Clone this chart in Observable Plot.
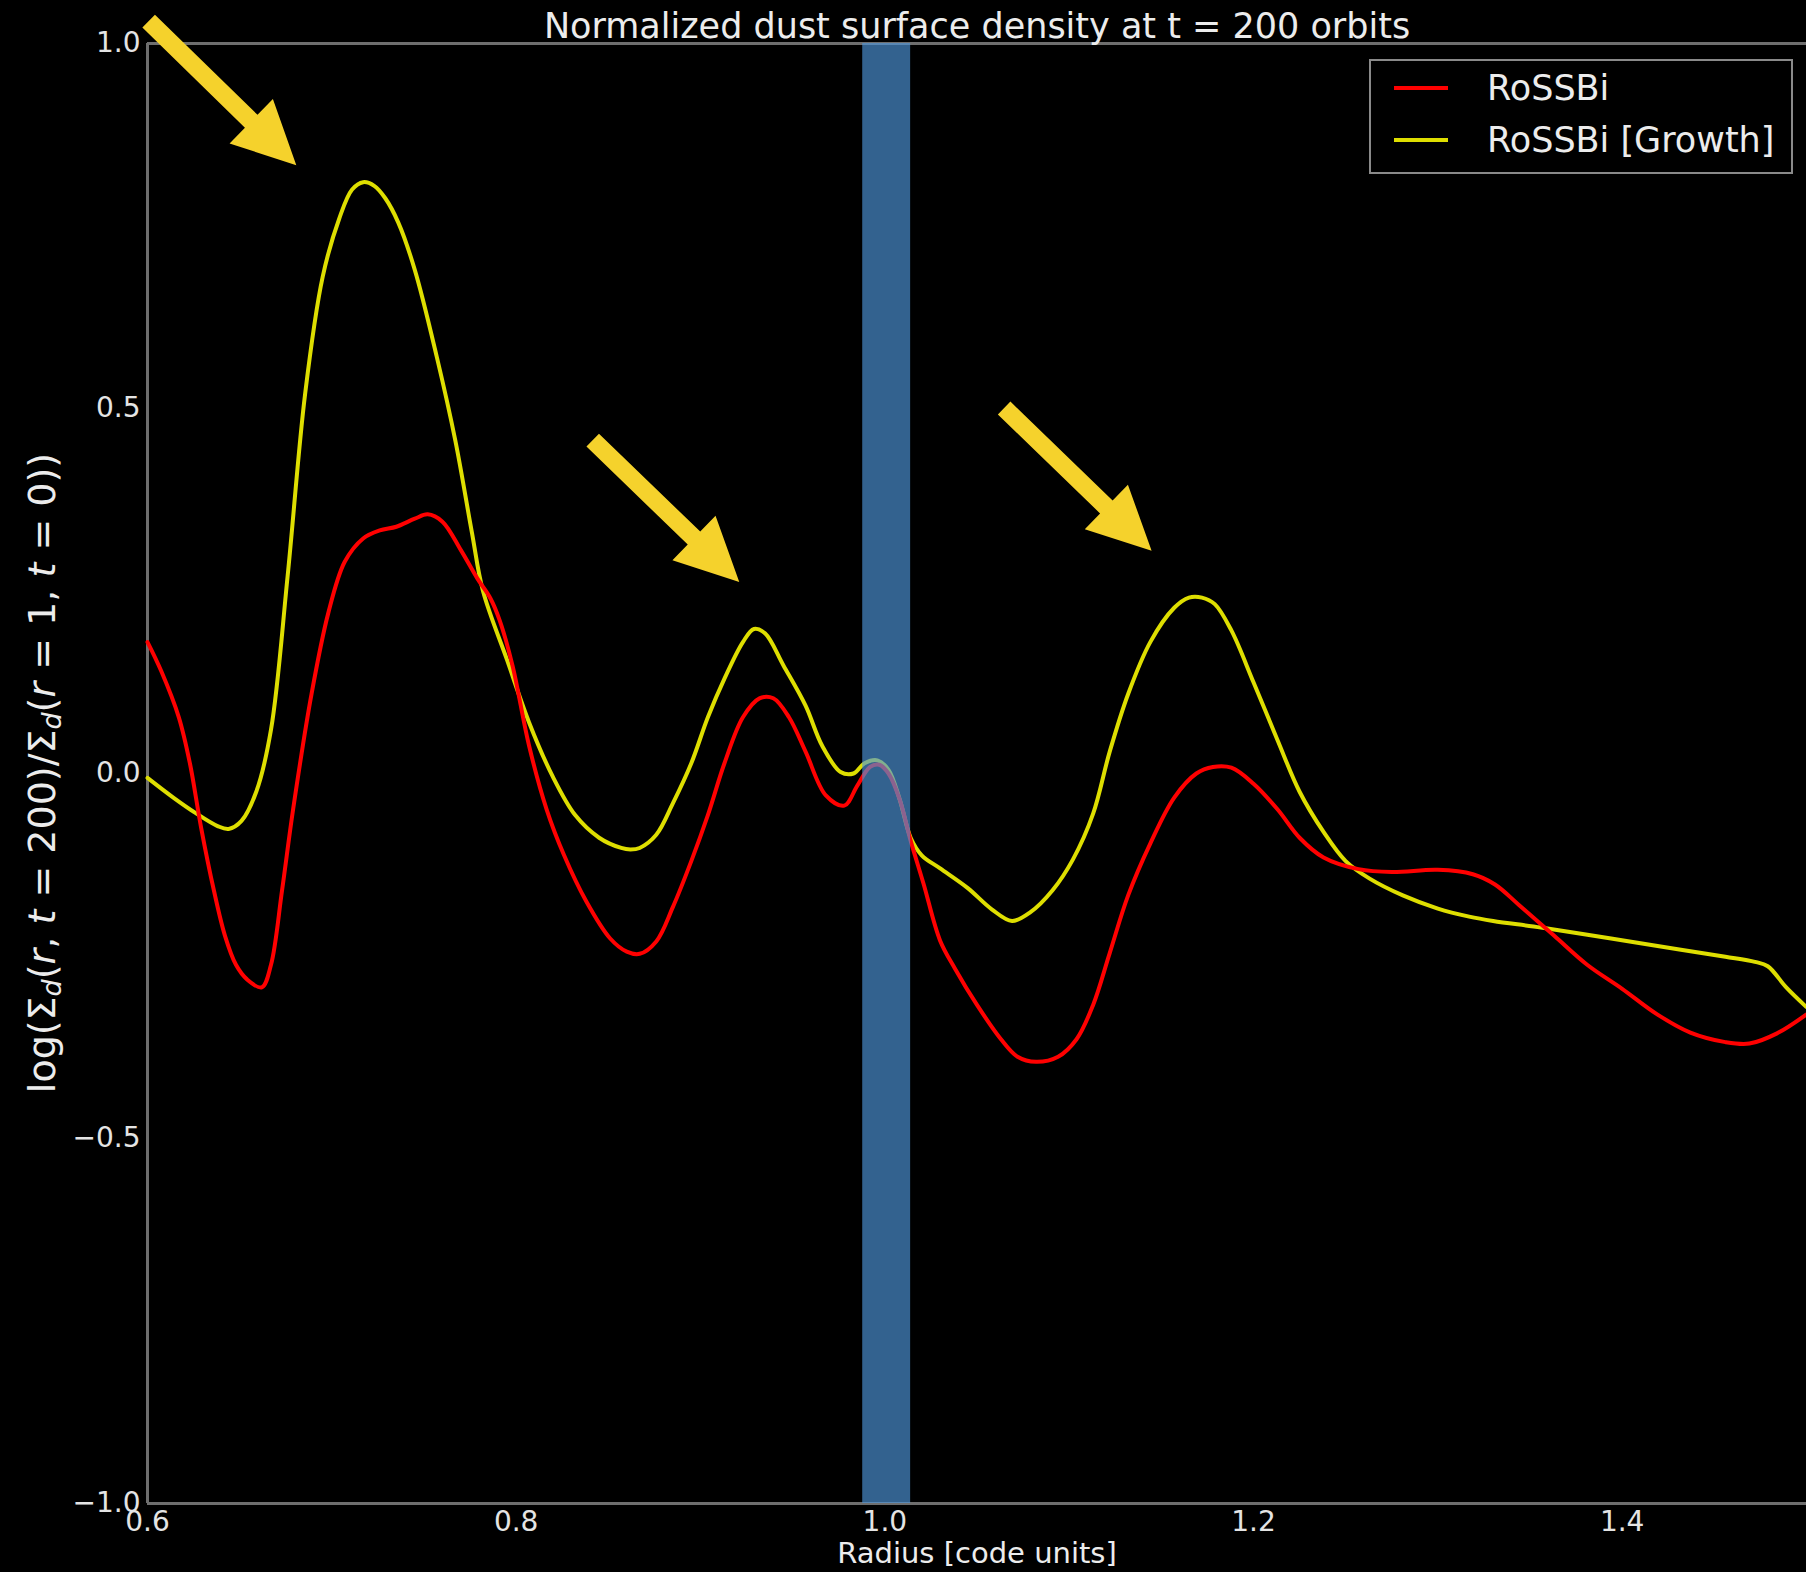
<!DOCTYPE html>
<html>
<head>
<meta charset="utf-8">
<script src="https://cdn.jsdelivr.net/npm/d3@7"></script>
<script src="https://cdn.jsdelivr.net/npm/@observablehq/plot@0.6"></script>
<style>
html, body { margin: 0; padding: 0; background: #000; }
#wrap { position: relative; width: 1806px; height: 1572px; overflow: hidden; background: #000; }
.legend { position: absolute; left: 1369px; top: 59px; width: 420px; height: 111px; border: 2px solid #8a8a8a; background: #000;
  font-family: "DejaVu Sans", sans-serif; font-size: 35px; color: #ececec; }
.legend .sw { position: absolute; left: 23px; width: 54px; height: 4px; }
.legend .lb { position: absolute; left: 116px; height: 40px; line-height: 40px; white-space: nowrap; }
</style>
</head>
<body>
<div id="wrap"></div>
<script>
// ---- Data ----
const titleText = "Normalized dust surface density at t = 200 orbits";
const xLabelText = "Radius [code units]";
const seriesNames = ["RoSSBi", "RoSSBi [Growth]"];
const seriesColors = ["#ff0000", "#dede00"];
const xTicks = [0.6, 0.8, 1.0, 1.2, 1.4];
const yTicks = [-1.0, -0.5, 0.0, 0.5, 1.0];

// RoSSBi (red)
const radiusRed = [0.600,0.6075,0.617,0.623,0.629,0.636,0.642,0.648,0.654,0.662,0.667,0.673,0.679,0.689,0.698,0.707,0.717,0.726,0.735,0.745,0.752,0.760,0.770,0.779,0.786,0.791,0.798,0.807,0.8165,0.826,0.838,0.851,0.860,0.867,0.876,0.885,0.895,0.904,0.913,0.923,0.932,0.9395,0.948,0.957,0.968,0.978,0.985,0.992,0.997,1.002,1.008,1.014,1.021,1.030,1.038,1.050,1.063,1.072,1.082,1.094,1.104,1.113,1.122,1.132,1.144,1.157,1.169,1.178,1.188,1.200,1.213,1.225,1.238,1.257,1.275,1.300,1.319,1.331,1.344,1.363,1.381,1.400,1.419,1.437,1.456,1.469,1.484,1.500];
const valueRed = [0.18,0.14,0.077,0.014,-0.073,-0.16,-0.222,-0.262,-0.282,-0.293,-0.262,-0.16,-0.049,0.109,0.219,0.29,0.322,0.333,0.338,0.349,0.355,0.345,0.306,0.267,0.24,0.21,0.148,0.038,-0.049,-0.112,-0.175,-0.226,-0.244,-0.247,-0.23,-0.183,-0.12,-0.057,0.014,0.077,0.103,0.103,0.077,0.03,-0.03,-0.044,-0.017,0.009,0.012,0.0,-0.035,-0.092,-0.151,-0.229,-0.267,-0.317,-0.364,-0.388,-0.395,-0.388,-0.364,-0.317,-0.246,-0.167,-0.096,-0.033,0.0,0.009,0.008,-0.014,-0.049,-0.088,-0.115,-0.131,-0.135,-0.132,-0.138,-0.152,-0.18,-0.222,-0.262,-0.295,-0.33,-0.355,-0.368,-0.37,-0.356,-0.33];

// RoSSBi [Growth] (yellow)
const radiusYellow = [0.600,0.614,0.626,0.638,0.644,0.651,0.659,0.667,0.676,0.6855,0.695,0.704,0.711,0.717,0.723,0.729,0.736,0.745,0.757,0.767,0.776,0.782,0.795,0.807,0.820,0.832,0.845,0.857,0.862,0.867,0.876,0.885,0.895,0.904,0.913,0.923,0.929,0.935,0.945,0.957,0.966,0.976,0.983,0.989,0.996,1.002,1.008,1.014,1.020,1.030,1.045,1.058,1.069,1.079,1.091,1.102,1.113,1.122,1.132,1.144,1.157,1.165,1.172,1.179,1.188,1.200,1.213,1.225,1.238,1.250,1.263,1.281,1.300,1.317,1.330,1.356,1.394,1.431,1.456,1.472,1.479,1.489,1.500];
const valueYellow = [-0.006,-0.033,-0.054,-0.072,-0.076,-0.065,-0.025,0.06,0.27,0.52,0.68,0.76,0.80,0.81,0.805,0.788,0.755,0.69,0.57,0.456,0.33,0.25,0.156,0.07,-0.005,-0.057,-0.088,-0.102,-0.104,-0.102,-0.084,-0.041,0.014,0.077,0.13,0.18,0.198,0.192,0.148,0.093,0.038,0.002,0.0,0.014,0.018,0.005,-0.035,-0.088,-0.112,-0.13,-0.157,-0.186,-0.202,-0.19,-0.16,-0.118,-0.055,0.03,0.109,0.18,0.227,0.241,0.241,0.232,0.196,0.125,0.046,-0.025,-0.08,-0.12,-0.144,-0.167,-0.185,-0.196,-0.202,-0.211,-0.226,-0.241,-0.251,-0.258,-0.264,-0.293,-0.32];

// Highlighted band (blue)
const bandStart = [0.988];
const bandEnd = [1.014];

// Annotation arrows (tail -> tip), in data units
const arrowX1 = [0.6009, 0.8418, 1.065];
const arrowY1 = [1.030, 0.456, 0.500];
const arrowX2 = [0.681, 0.9213, 1.145];
const arrowY2 = [0.8325, 0.2618, 0.3044];

// ---- Build tables ----
const redData = radiusRed.map((r, i) => ({r, v: valueRed[i]}));
const yellowData = radiusYellow.map((r, i) => ({r, v: valueYellow[i]}));
const bandData = bandStart.map((s, i) => ({s, e: bandEnd[i]}));

const W = 1806, H = 1572, mL = 147, mR = 0, mT = 43, mB = 69;
const xDomain = [0.6, 1.5], yDomain = [-1, 1];

function arrowsMark(index, scales, values, dimensions) {
  let sx = scales && typeof scales.x === "function" ? scales.x : null;
  let sy = scales && typeof scales.y === "function" ? scales.y : null;
  if (!sx) sx = d3.scaleLinear(xDomain, [mL, W - mR]);
  if (!sy) sy = d3.scaleLinear(yDomain, [H - mB, mT]);
  const g = d3.create("svg:g");
  const shaftW = 18, headL = 63, headW = 31;
  for (let i = 0; i < arrowX1.length; i++) {
    const x1 = sx(arrowX1[i]), y1 = sy(arrowY1[i]), x2 = sx(arrowX2[i]), y2 = sy(arrowY2[i]);
    const dx = x2 - x1, dy = y2 - y1, L = Math.hypot(dx, dy);
    const ux = dx / L, uy = dy / L, nx = -uy, ny = ux;
    const bx = x2 - ux * headL, by = y2 - uy * headL;
    const pts = [
      [x1 + nx * shaftW / 2, y1 + ny * shaftW / 2],
      [bx + nx * shaftW / 2, by + ny * shaftW / 2],
      [bx + nx * headW, by + ny * headW],
      [x2, y2],
      [bx - nx * headW, by - ny * headW],
      [bx - nx * shaftW / 2, by - ny * shaftW / 2],
      [x1 - nx * shaftW / 2, y1 - ny * shaftW / 2]
    ];
    g.append("polygon").attr("points", pts.map(p => p.join(",")).join(" ")).attr("fill", "#f5d22c");
  }
  return g.node();
}

const fmt = d => d.toFixed(1).replace("-", "\u2212");

const plot = Plot.plot({
  width: W, height: H,
  marginLeft: mL, marginRight: mR, marginTop: mT, marginBottom: mB,
  x: {domain: xDomain},
  y: {domain: yDomain},
  style: {background: "#000", color: "#e4e4e4", fontFamily: "DejaVu Sans, sans-serif", fontSize: "28px", overflow: "visible"},
  marks: [
    Plot.ruleY([-1, 1], {stroke: "#6e6e6e", strokeWidth: 3}),
    Plot.ruleX([0.6], {stroke: "#6e6e6e", strokeWidth: 3}),
    Plot.line(yellowData, {x: "r", y: "v", stroke: seriesColors[1], strokeWidth: 4, curve: "catmull-rom"}),
    Plot.line(redData, {x: "r", y: "v", stroke: seriesColors[0], strokeWidth: 4, curve: "catmull-rom"}),
    Plot.rect(bandData, {x1: "s", x2: "e", y1: -1, y2: 1, fill: "#4e97dc", fillOpacity: 0.65}),
    arrowsMark,
    Plot.axisX({ticks: xTicks, tickSize: 0, tickPadding: 8, tickFormat: fmt, label: null, fontSize: 28}),
    Plot.axisY({ticks: yTicks, tickSize: 0, tickPadding: 7, tickFormat: fmt, label: null, fontSize: 28}),
    Plot.text([titleText], {text: d => d, frameAnchor: "top", lineAnchor: "bottom", dy: -6, fontSize: 35, fill: "#ececec"}),
    Plot.text([xLabelText], {text: d => d, frameAnchor: "bottom", lineAnchor: "middle", dy: 50, fontSize: 29, fill: "#ececec"})
  ]
});

const wrap = document.getElementById("wrap");
wrap.appendChild(plot);

// Y-axis label with subscripts and italics
const svg = d3.select(plot.tagName.toLowerCase() === "svg" ? plot : plot.querySelector("svg"));
const yl = svg.append("text")
  .attr("transform", `translate(44,${(mT + H - mB) / 2}) rotate(-90)`)
  .attr("text-anchor", "middle")
  .attr("dominant-baseline", "middle")
  .attr("fill", "#ececec")
  .attr("font-family", "DejaVu Sans, sans-serif")
  .attr("font-size", 38);
const parts = [
  ["log(\u03a3", null], ["d", "sub"], ["(", null], ["r", "i"], [", ", null], ["t", "i"], [" = 200)/\u03a3", null],
  ["d", "sub"], ["(", null], ["r", "i"], [" = 1, ", null], ["t", "i"], [" = 0))", null]
];
parts.forEach(([txt, kind], i) => {
  const t = yl.append("tspan").text(txt);
  if (kind === "sub") {
    t.attr("font-style", "italic").attr("font-size", 27).attr("dy", 9);
  } else if (kind === "i") {
    t.attr("font-style", "italic");
  }
  const prev = parts[i - 1];
  if (prev && prev[1] === "sub") t.attr("dy", -9);
});

// Legend
const legend = document.createElement("div");
legend.className = "legend";
const rowsY = [27, 79];
seriesNames.forEach((name, i) => {
  const sw = document.createElement("div");
  sw.className = "sw";
  sw.style.top = (rowsY[i] - 2) + "px";
  sw.style.background = seriesColors[i];
  legend.appendChild(sw);
  const lb = document.createElement("div");
  lb.className = "lb";
  lb.style.top = (rowsY[i] - 20) + "px";
  lb.textContent = name;
  legend.appendChild(lb);
});
wrap.appendChild(legend);
</script>
</body>
</html>
